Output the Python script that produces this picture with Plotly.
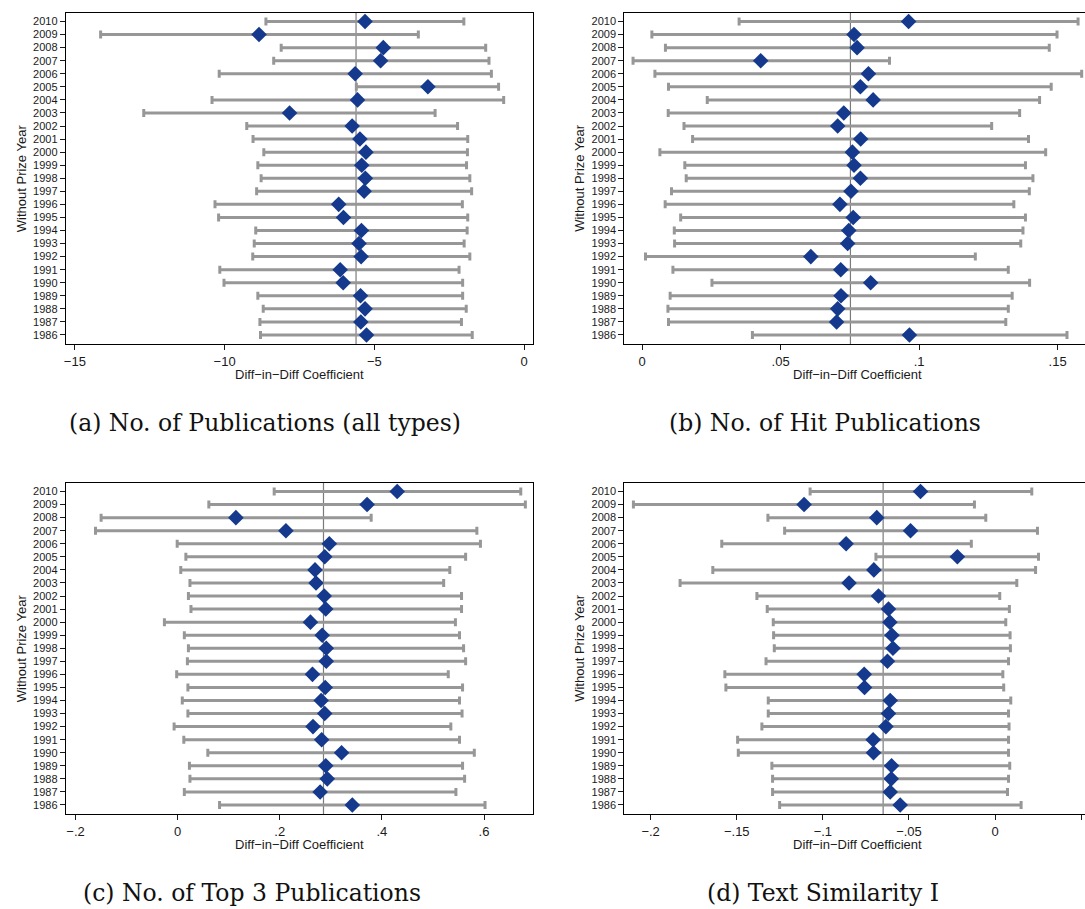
import plotly.graph_objects as go

W, H = 1085, 909

years = [2010, 2009, 2008, 2007, 2006, 2005, 2004, 2003, 2002, 2001, 2000, 1999, 1998,
         1997, 1996, 1995, 1994, 1993, 1992, 1991, 1990, 1989, 1988, 1987, 1986]

# (a) No. of Publications (all types)
a_point = [-5.31, -8.85, -4.70, -4.79, -5.64, -3.21, -5.56, -7.83, -5.74, -5.48, -5.28, -5.42, -5.30,
           -5.34, -6.19, -6.03, -5.43, -5.51, -5.44, -6.14, -6.04, -5.46, -5.31, -5.45, -5.26]
a_low = [-8.62, -14.14, -8.11, -8.36, -10.18, -5.60, -10.42, -12.70, -9.26, -9.05, -8.69, -8.89, -8.78,
         -8.93, -10.32, -10.20, -8.96, -9.01, -9.06, -10.16, -10.02, -8.89, -8.71, -8.82, -8.80]
a_high = [-2.01, -3.53, -1.28, -1.17, -1.09, -0.85, -0.68, -2.97, -2.22, -1.88, -1.89, -1.92, -1.81,
          -1.75, -2.06, -1.88, -1.90, -2.00, -1.81, -2.17, -2.05, -2.05, -1.93, -2.09, -1.73]
a_ref = -5.61
a_ticks = [-15, -10, -5, 0]
a_ticktext = ["\u221215", "\u221210", "\u22125", "0"]

# (b) No. of Hit Publications
b_point = [0.0962, 0.0765, 0.0776, 0.0428, 0.0817, 0.0788, 0.0834, 0.0728, 0.0706, 0.0789, 0.0759, 0.0765, 0.0788,
           0.0754, 0.0714, 0.0762, 0.0746, 0.0742, 0.0609, 0.0717, 0.0825, 0.0718, 0.0706, 0.0702, 0.0965]
b_low = [0.0350, 0.0035, 0.0084, -0.0033, 0.0046, 0.0095, 0.0235, 0.0094, 0.0151, 0.0182, 0.0064, 0.0154, 0.0159,
         0.0106, 0.0083, 0.0139, 0.0116, 0.0117, 0.0012, 0.0111, 0.0252, 0.0101, 0.0093, 0.0095, 0.0398]
b_high = [0.1574, 0.1498, 0.1470, 0.0893, 0.1587, 0.1477, 0.1435, 0.1363, 0.1262, 0.1395, 0.1457, 0.1384, 0.1411,
          0.1398, 0.1342, 0.1384, 0.1375, 0.1367, 0.1203, 0.1322, 0.1399, 0.1336, 0.1322, 0.1313, 0.1534]
b_ref = 0.0752
b_ticks = [0, 0.05, 0.1, 0.15]
b_ticktext = ["0", ".05", ".1", ".15"]

# (c) No. of Top 3 Publications
c_point = [0.430, 0.371, 0.114, 0.212, 0.297, 0.288, 0.269, 0.271, 0.287, 0.290, 0.260, 0.283, 0.291,
           0.291, 0.264, 0.289, 0.281, 0.288, 0.265, 0.282, 0.321, 0.290, 0.293, 0.279, 0.342]
c_low = [0.189, 0.061, -0.150, -0.161, -0.001, 0.016, 0.006, 0.024, 0.021, 0.026, -0.026, 0.013, 0.021,
         0.019, -0.002, 0.020, 0.009, 0.020, -0.007, 0.012, 0.059, 0.023, 0.024, 0.013, 0.082]
c_high = [0.672, 0.681, 0.379, 0.586, 0.593, 0.564, 0.533, 0.521, 0.556, 0.556, 0.544, 0.552, 0.560,
          0.564, 0.530, 0.558, 0.552, 0.557, 0.535, 0.552, 0.581, 0.558, 0.562, 0.545, 0.602]
c_ref = 0.2856
c_ticks = [-0.2, 0, 0.2, 0.4, 0.6]
c_ticktext = ["\u2212.2", "0", ".2", ".4", ".6"]

# (d) Text Similarity I
d_point = [-0.0433, -0.1109, -0.0687, -0.0491, -0.0865, -0.0219, -0.0704, -0.0848, -0.0677, -0.0619, -0.0611,
           -0.0599, -0.0593, -0.0625, -0.0760, -0.0758, -0.0609, -0.0619, -0.0634, -0.0708, -0.0706, -0.0601,
           -0.0603, -0.0609, -0.0551]
d_low = [-0.1074, -0.2100, -0.1319, -0.1222, -0.1587, -0.0692, -0.1639, -0.1829, -0.1383, -0.1323, -0.1288,
         -0.1286, -0.1282, -0.1330, -0.1569, -0.1563, -0.1317, -0.1317, -0.1354, -0.1495, -0.1491, -0.1296,
         -0.1292, -0.1292, -0.1251]
d_high = [0.0213, -0.0120, -0.0054, 0.0246, -0.0138, 0.0252, 0.0235, 0.0126, 0.0027, 0.0083, 0.0062,
          0.0087, 0.0089, 0.0078, 0.0045, 0.0050, 0.0091, 0.0078, 0.0081, 0.0078, 0.0078, 0.0085,
          0.0078, 0.0072, 0.0151]
d_ref = -0.0650
d_ticks = [-0.2, -0.15, -0.1, -0.05, 0, 0.05]
d_ticktext = ["\u2212.2", "\u2212.15", "\u2212.1", "\u2212.05", "0", ".05"]

captions = ["(a) No. of Publications (all types)", "(b) No. of Hit Publications",
            "(c) No. of Top 3 Publications", "(d) Text Similarity I"]

NAVY = "#15398c"
CI_GRAY = "#979797"
REF_GRAY = "#7a7a7a"


def px_x(p):
    return p / W


def px_y(p):
    return 1 - p / H


panels = [
    dict(pt=a_point, lo=a_low, hi=a_high, ref=a_ref, tv=a_ticks, tt=a_ticktext,
         xr=[-15.30, 0.30], xpx=(64, 532), ypx=(12.5, 344), cap=(263, 423), full=True),
    dict(pt=b_point, lo=b_low, hi=b_high, ref=b_ref, tv=b_ticks, tt=b_ticktext,
         xr=[-0.0064, 0.1599], xpx=(623.6, 1085), ypx=(12.5, 344), cap=(825, 423), full=False),
    dict(pt=c_point, lo=c_low, hi=c_high, ref=c_ref, tv=c_ticks, tt=c_ticktext,
         xr=[-0.219, 0.696], xpx=(64, 532), ypx=(482.5, 814), cap=(250, 893), full=True),
    dict(pt=d_point, lo=d_low, hi=d_high, ref=d_ref, tv=d_ticks, tt=d_ticktext,
         xr=[-0.2152, 0.0522], xpx=(623.6, 1085), ypx=(482.5, 814), cap=(823, 893), full=False),
]

fig = go.Figure()
layout = dict(width=W, height=H, margin=dict(l=0, r=0, t=0, b=0),
              paper_bgcolor="white", plot_bgcolor="white", showlegend=False,
              font=dict(family="Liberation Sans, Arial, sans-serif", color="#1a1a1a"))
shapes = []
annotations = []

for i, p in enumerate(panels):
    n = i + 1
    xa = "x" if n == 1 else f"x{n}"
    ya = "y" if n == 1 else f"y{n}"
    err_plus = [h - c for h, c in zip(p["hi"], p["pt"])]
    err_minus = [c - l for c, l in zip(p["pt"], p["lo"])]
    fig.add_trace(go.Scatter(
        x=p["pt"], y=years, mode="markers", xaxis=xa, yaxis=ya,
        marker=dict(symbol="diamond", size=12, color=NAVY, line=dict(width=0)),
        error_x=dict(type="data", symmetric=False, array=err_plus, arrayminus=err_minus,
                     color=CI_GRAY, thickness=3, width=4),
        cliponaxis=False,
    ))
    x0, x1 = p["xpx"]
    y0, y1 = p["ypx"]
    layout[f"xaxis{n if n > 1 else ''}"] = dict(
        domain=[px_x(x0), px_x(x1)], anchor=ya, range=p["xr"],
        tickmode="array", tickvals=p["tv"], ticktext=p["tt"],
        ticks="outside", ticklen=5, tickwidth=1, tickcolor="#1a1a1a",
        tickfont=dict(size=13, color="#1a1a1a"),
        showline=True, linecolor="black", linewidth=1.3, mirror=True,
        showgrid=False, zeroline=False)
    layout[f"yaxis{n if n > 1 else ''}"] = dict(
        domain=[px_y(y1), px_y(y0)], anchor=xa, range=[1985.31, 2010.69],
        tickmode="array", tickvals=years, ticktext=[str(y) for y in years],
        ticks="outside", ticklen=5, tickwidth=1, tickcolor="#1a1a1a",
        tickfont=dict(size=11, color="#1a1a1a"),
        showline=True, linecolor="black", linewidth=1.3, mirror=p["full"],
        showgrid=False, zeroline=False)
    shapes.append(dict(type="line", xref=xa, yref=f"{ya} domain", x0=p["ref"], x1=p["ref"],
                       y0=0, y1=1, line=dict(color=REF_GRAY, width=1.2), layer="below"))
    # axis titles
    xc = (x0 + x1) / 2 if p["full"] else (x0 + 1090) / 2
    annotations.append(dict(text="Diff\u2212in\u2212Diff Coefficient", xref="paper", yref="paper",
                            x=px_x(xc), y=px_y(y1 + 30.5), xanchor="center", yanchor="middle",
                            showarrow=False, font=dict(size=13, color="#1a1a1a")))
    annotations.append(dict(text="Without Prize Year", xref="paper", yref="paper",
                            x=px_x(x0 - 45), y=px_y((y0 + y1) / 2), xanchor="center", yanchor="middle",
                            textangle=-90, showarrow=False, font=dict(size=13, color="#1a1a1a")))
    annotations.append(dict(text=captions[i], xref="paper", yref="paper",
                            x=px_x(p["cap"][0]), y=px_y(p["cap"][1]), xanchor="center", yanchor="middle",
                            showarrow=False,
                            font=dict(size=23.5, color="#111111", family="DejaVu Serif, serif")))

layout["shapes"] = shapes
layout["annotations"] = annotations
fig.update_layout(**layout)
fig.write_html("out.html")
